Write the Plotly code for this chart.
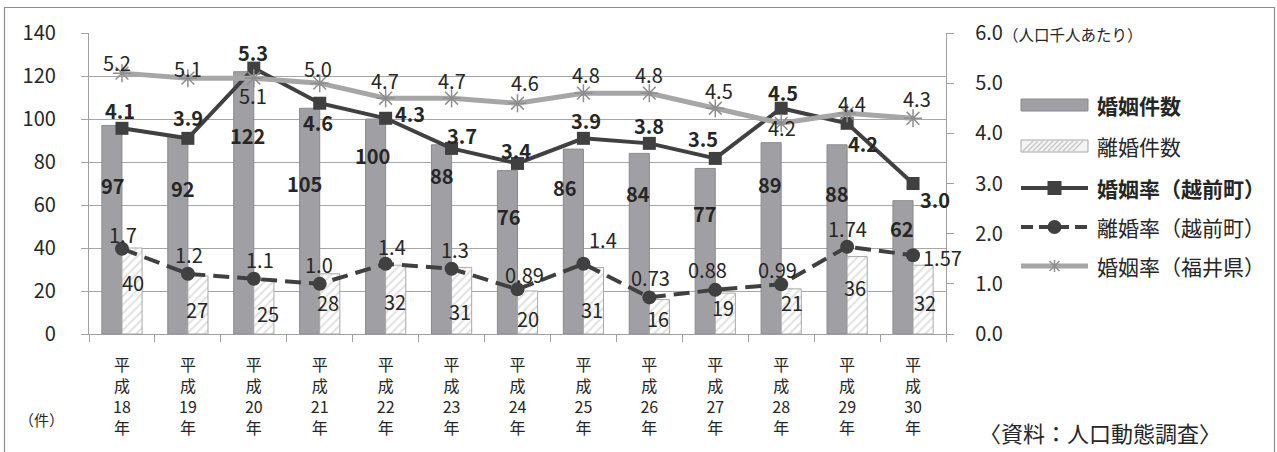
import plotly.graph_objects as go

# ---------------- data ----------------
years = ["18", "19", "20", "21", "22", "23", "24", "25", "26", "27", "28", "29", "30"]
marriages = [97, 92, 122, 105, 100, 88, 76, 86, 84, 77, 89, 88, 62]
divorces = [40, 27, 25, 28, 32, 31, 20, 31, 16, 19, 21, 36, 32]
marriage_rate_town = [4.1, 3.9, 5.3, 4.6, 4.3, 3.7, 3.4, 3.9, 3.8, 3.5, 4.5, 4.2, 3.0]
divorce_rate_town = [1.7, 1.2, 1.1, 1.0, 1.4, 1.3, 0.89, 1.4, 0.73, 0.88, 0.99, 1.74, 1.57]
marriage_rate_pref = [5.2, 5.1, 5.1, 5.0, 4.7, 4.7, 4.6, 4.8, 4.8, 4.5, 4.2, 4.4, 4.3]

names = ["婚姻件数", "離婚件数", "婚姻率（越前町）", "離婚率（越前町）", "婚姻率（福井県）"]
left_ticks = [0, 20, 40, 60, 80, 100, 120, 140]
right_ticks = [0, 1, 2, 3, 4, 5, 6]

categories = ["平<br>成<br>%s<br>年" % y for y in years]

# ---------------- label placement (pixel offsets, screen: +x right, +y down) -------------
marr_lbl_off = [(1, 60), (5, 52), (4, 64), (-5, 75), (-3, 36), (0, 31), (1, 46),
                (-8, 38), (-1, 40), (0, 45), (-1, 42), (0, 49), (-1, 28)]
div_lbl_off = [(1, 34), (-1, 34), (4, 33), (-2, 29), (-1, 36), (-2, 44), (0, 27),
               (-1, 42), (-1, 19), (-2, 14), (1, 14), (-2, 31), (2, 37)]
town_lbl_off = [(-2, -18), (0, -21), (-1, -16), (-2, 19), (24, -5), (10, -13), (-2, -13),
                (3, -18), (0, -18), (-12, -20), (2, -16), (16, 20), (22, 16)]
pref_lbl_off = [(-5, -11), (0, -10), (-1, 17), (-2, -15), (-1, -18), (0, -18), (7, -21),
                (3, -19), (0, -19), (4, -18), (1, 4), (5, -10), (4, -20)]
divr_lbl_off = [(1, -14), (1, -19), (6, -19), (-1, -19), (6, -17), (3, -19), (7, -15),
                (20, -24), (1, -20), (-8, -20), (-4, -15), (0, -18), (29, 2)]

FONT = "Noto Sans CJK JP"
TXT = "#262626"
DARK = "#404040"
BARGRAY = "#a0a0a4"
PREF = "#a6a6a6"
DASH = "16px,8px"

W, H = 1277, 452
# plot area in page pixels
L, R, T, B = 89, 946, 33, 334


def px(x):
    return (x - L) / (R - L)


def py(y):
    return (B - y) / (B - T)


fig = go.Figure()

fig.add_trace(go.Bar(
    x=categories, y=marriages, name=names[0],
    marker=dict(color=BARGRAY, line=dict(color="#8a8a8e", width=1)),
    yaxis="y", offsetgroup="a", showlegend=False))
fig.add_trace(go.Bar(
    x=categories, y=divorces, name=names[1],
    marker=dict(color="white", line=dict(color="#a8a8a8", width=1),
                pattern=dict(shape="/", fgcolor="#c4c4c4", bgcolor="white", size=6, solidity=0.35)),
    yaxis="y", offsetgroup="b", showlegend=False))
fig.add_trace(go.Scatter(
    x=categories, y=marriage_rate_town, name=names[2], yaxis="y2", mode="lines+markers",
    line=dict(color=DARK, width=4),
    marker=dict(symbol="square", size=13, color=DARK), showlegend=False))
fig.add_trace(go.Scatter(
    x=categories, y=divorce_rate_town, name=names[3], yaxis="y2", mode="lines+markers",
    line=dict(color=DARK, width=4, dash=DASH),
    marker=dict(symbol="circle", size=14, color=DARK), showlegend=False))
fig.add_trace(go.Scatter(
    x=categories, y=marriage_rate_pref, name=names[4], yaxis="y2", mode="lines+markers",
    line=dict(color=PREF, width=5),
    marker=dict(symbol="asterisk-open", size=15, color="#8e8e8e", line=dict(color="#8e8e8e", width=1.5)),
    showlegend=False))

annotations = []


def add_labels(vals, offs, yref, xshift0, bold, fmt):
    for c, v, (dx, dy) in zip(categories, vals, offs):
        t = fmt(v)
        if bold:
            t = "<b>%s</b>" % t
        annotations.append(dict(
            x=c, y=v, xref="x", yref=yref, text=t, showarrow=False,
            xanchor="center", yanchor="middle",
            xshift=xshift0 + dx, yshift=-dy,
            font=dict(family=FONT, size=20, color=TXT)))


add_labels(marriages, marr_lbl_off, "y", -10, True, lambda v: str(v))
add_labels(divorces, div_lbl_off, "y", 10, False, lambda v: str(v))
add_labels(marriage_rate_town, town_lbl_off, "y2", 0, True, lambda v: "%.1f" % v)
add_labels(marriage_rate_pref, pref_lbl_off, "y2", 0, False, lambda v: "%.1f" % v)
add_labels(divorce_rate_town, divr_lbl_off, "y2", 0, False, lambda v: str(v))


def note(x, y, text, size, xanchor="center", bold=False):
    annotations.append(dict(x=px(x), y=py(y), xref="paper", yref="paper",
                            xanchor=xanchor, yanchor="middle",
                            text=("<b>%s</b>" % text) if bold else text, showarrow=False,
                            font=dict(family=FONT, size=size, color=TXT)))


# axis notes and source
note(1001, 34, "（人口千人あたり）", 15.5, "left")
note(41, 419, "（件）", 15)
note(1100, 432, "〈資料：人口動態調査〉", 22)

# ---------------- manual legend ----------------
shapes = []
lx0, lx1 = 1021, 1088
lmid = (lx0 + lx1) / 2
leg_y = [105, 146, 188, 227, 266]


def pshape(**kw):
    d = dict(xref="paper", yref="paper")
    d.update(kw)
    shapes.append(d)


pshape(type="rect", x0=px(lx0), x1=px(lx1), y0=py(leg_y[0] - 6), y1=py(leg_y[0] + 6),
       fillcolor=BARGRAY, line=dict(color="#8a8a8e", width=1))
pshape(type="rect", x0=px(lx0), x1=px(lx1), y0=py(leg_y[1] - 6), y1=py(leg_y[1] + 6),
       fillcolor="#f4f4f4", line=dict(color="#a8a8a8", width=1))
hx = lx0 + 2
while hx + 10 <= lx1 - 1:
    pshape(type="line", x0=px(hx), x1=px(hx + 10), y0=py(leg_y[1] + 5), y1=py(leg_y[1] - 5),
           line=dict(color="#c4c4c4", width=1.2))
    hx += 5
pshape(type="line", x0=px(lx0), x1=px(lx1), y0=py(leg_y[2]), y1=py(leg_y[2]),
       line=dict(color=DARK, width=4))
pshape(type="rect", x0=px(lmid - 7), x1=px(lmid + 7), y0=py(leg_y[2] - 7), y1=py(leg_y[2] + 7),
       fillcolor=DARK, line=dict(width=0))
pshape(type="line", x0=px(lx0), x1=px(lx1), y0=py(leg_y[3]), y1=py(leg_y[3]),
       line=dict(color=DARK, width=4, dash="12px,6px"))
pshape(type="circle", x0=px(lmid - 7), x1=px(lmid + 7), y0=py(leg_y[3] - 7), y1=py(leg_y[3] + 7),
       fillcolor=DARK, line=dict(width=0))
pshape(type="line", x0=px(lx0), x1=px(lx1), y0=py(leg_y[4]), y1=py(leg_y[4]),
       line=dict(color=PREF, width=5))
for (ax, ay) in [(0, 6), (5, 5), (5, -5)]:
    pshape(type="line", x0=px(lmid - ax), x1=px(lmid + ax), y0=py(leg_y[4] - ay), y1=py(leg_y[4] + ay),
           line=dict(color="#8e8e8e", width=1.5))

for i, (n, yy) in enumerate(zip(names, leg_y)):
    note(1095, yy, n, 21, "left", bold=(i in (0, 2)))

# outer border
pshape(type="rect", x0=px(4.5), x1=px(1274.5), y0=py(7.5), y1=py(470),
       line=dict(color="#8c8c8c", width=1.2), fillcolor="rgba(0,0,0,0)", layer="below")

fig.update_layout(
    width=W, height=H,
    margin=dict(l=L, r=W - R, t=T, b=H - B, autoexpand=False),
    paper_bgcolor="white", plot_bgcolor="white",
    barmode="group", bargap=0.39, bargroupgap=0,
    font=dict(family=FONT, color=TXT),
    xaxis=dict(type="category", range=[-0.5, len(categories) - 0.5],
               showline=True, linecolor="#a0a0a0", linewidth=1.3,
               ticks="outside", tickson="boundaries", ticklen=7, tickcolor="#a0a0a0",
               tickwidth=1.3, showgrid=False,
               tickfont=dict(family=FONT, size=16, color=TXT), ticklabelstandoff=17),
    yaxis=dict(range=[0, 140], tickvals=left_ticks, showline=True, linecolor="#a0a0a0",
               linewidth=1.3, showgrid=True, gridcolor="#a6a6a6", gridwidth=1.3,
               zeroline=False, ticks="outside", ticklen=7, tickcolor="#a6a6a6", tickwidth=1.3,
               tickfont=dict(family=FONT, size=20, color=TXT), ticklabelstandoff=21),
    yaxis2=dict(range=[0, 6], tickvals=right_ticks, tickformat=".1f", overlaying="y",
                side="right", showline=True, linecolor="#a0a0a0", linewidth=1.3,
                showgrid=False, zeroline=False, ticks="outside", ticklen=7,
                tickcolor="#a0a0a0", tickwidth=1.3,
                tickfont=dict(family=FONT, size=20, color=TXT), ticklabelstandoff=17),
    shapes=shapes,
    annotations=annotations,
    showlegend=False,
)

# remove the default page margin so the figure sits at the page origin
fig.write_html("out.html", config={"displayModeBar": False},
               post_script="document.body.style.margin='0';document.body.style.overflow='hidden';")
